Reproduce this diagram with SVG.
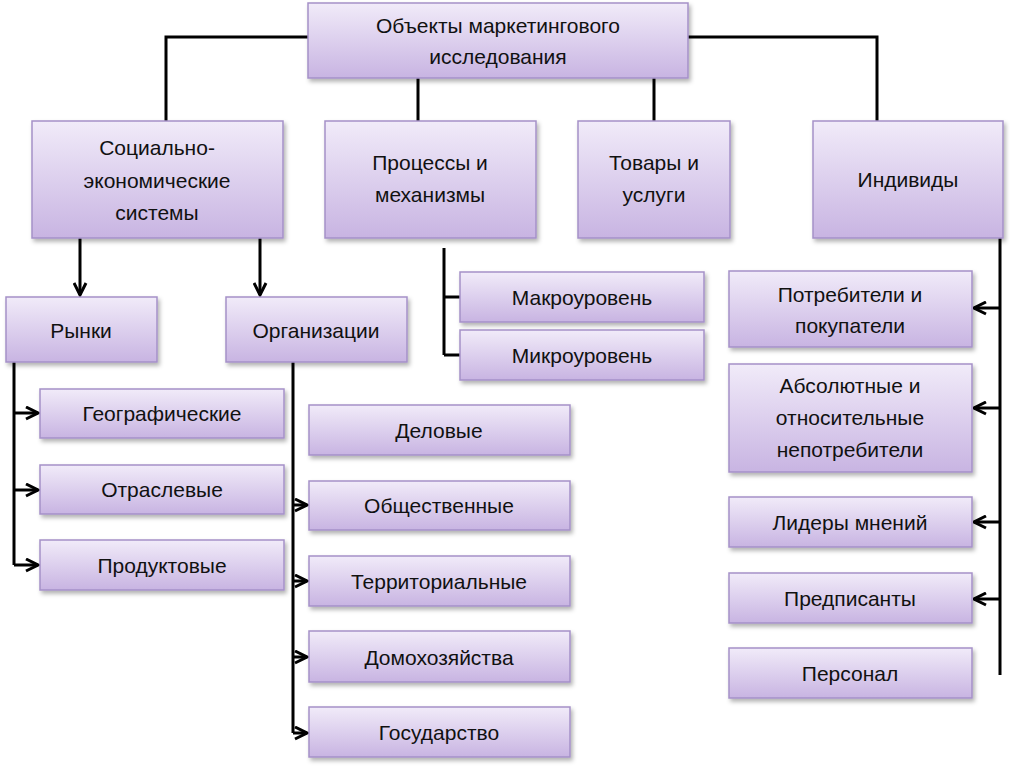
<svg xmlns="http://www.w3.org/2000/svg" width="1010" height="766" viewBox="0 0 1010 766">
<defs>
<linearGradient id="g" x1="0" y1="0" x2="0" y2="1"><stop offset="0" stop-color="#f1ebf9"/><stop offset="1" stop-color="#c8b4e2"/></linearGradient>
<filter id="sh" x="-5%" y="-10%" width="115%" height="130%"><feDropShadow dx="2" dy="3" stdDeviation="2" flood-color="#000" flood-opacity="0.3"/></filter>
<marker id="a" viewBox="0 0 10 10" refX="9" refY="5" markerWidth="5" markerHeight="5" orient="auto"><path d="M1,1 L9,5 L1,9" fill="none" stroke="#000" stroke-width="2"/></marker>
<style>
rect{fill:url(#g);stroke:#a591c8;stroke-width:1.5;filter:url(#sh)}
text{font-family:"Liberation Sans",Arial,sans-serif;font-size:21px;fill:#111;text-anchor:middle}
.c{stroke:#000;stroke-width:3;fill:none}
.ar{marker-end:url(#a)}
</style>
</defs>
<g id="connectors">
<path class="c" d="M308,37 H166 V121 M688,37 H877 V121 M418,78 V121 M654,78 V121"/>
<path class="c ar" d="M80,238 V295"/><path class="c ar" d="M260,238 V295"/>
<path class="c" d="M444,248 V355 M444,297 H460 M444,355 H460"/>
<path class="c" d="M14,362 V565"/>
<path class="c ar" d="M14,413 H38"/><path class="c ar" d="M14,490 H38"/><path class="c ar" d="M14,565 H38"/>
<path class="c" d="M293,362 V733"/>
<path class="c ar" d="M293,505 H307"/><path class="c ar" d="M293,581 H307"/><path class="c ar" d="M293,657 H307"/><path class="c ar" d="M293,733 H307"/>
<path class="c" d="M1000,238 V675"/>
<path class="c ar" d="M1000,308 H974"/><path class="c ar" d="M1000,408 H974"/><path class="c ar" d="M1000,522 H974"/><path class="c ar" d="M1000,599 H974"/>
</g>
<g id="root"><rect x="308" y="3" width="380" height="75"/><text x="498" y="33">Объекты маркетингового</text><text x="498" y="64">исследования</text></g>
<g id="soc"><rect x="32" y="121" width="251" height="117"/><text x="157" y="155">Социально-</text><text x="157" y="188">экономические</text><text x="157" y="220">системы</text></g>
<g id="proc"><rect x="325" y="121" width="211" height="117"/><text x="430" y="170">Процессы и</text><text x="430" y="202">механизмы</text></g>
<g id="tov"><rect x="578" y="121" width="152" height="117"/><text x="654" y="170">Товары и</text><text x="654" y="202">услуги</text></g>
<g id="ind"><rect x="813" y="121" width="190" height="117"/><text x="908" y="187">Индивиды</text></g>
<g id="rynki"><rect x="6" y="297" width="151" height="65"/><text x="81" y="338">Рынки</text></g>
<g id="org"><rect x="226" y="297" width="181" height="65"/><text x="316" y="338">Организации</text></g>
<g id="macro"><rect x="460" y="272" width="244" height="50"/><text x="582" y="305">Макроуровень</text></g>
<g id="micro"><rect x="460" y="330" width="244" height="50"/><text x="582" y="363">Микроуровень</text></g>
<g id="geo"><rect x="40" y="389" width="244" height="49"/><text x="162" y="421">Географические</text></g>
<g id="otr"><rect x="40" y="465" width="244" height="49"/><text x="162" y="497">Отраслевые</text></g>
<g id="prod"><rect x="40" y="540" width="244" height="50"/><text x="162" y="573">Продуктовые</text></g>
<g id="del"><rect x="309" y="405" width="261" height="50"/><text x="439" y="438">Деловые</text></g>
<g id="obsh"><rect x="309" y="481" width="261" height="49"/><text x="439" y="513">Общественные</text></g>
<g id="terr"><rect x="309" y="556" width="261" height="50"/><text x="439" y="589">Территориальные</text></g>
<g id="dom"><rect x="309" y="631" width="261" height="51"/><text x="439" y="665">Домохозяйства</text></g>
<g id="gos"><rect x="309" y="707" width="261" height="50"/><text x="439" y="740">Государство</text></g>
<g id="potr"><rect x="729" y="271" width="243" height="76"/><text x="850" y="302">Потребители и</text><text x="850" y="333">покупатели</text></g>
<g id="abs"><rect x="729" y="364" width="243" height="108"/><text x="850" y="393">Абсолютные и</text><text x="850" y="425">относительные</text><text x="850" y="457">непотребители</text></g>
<g id="lid"><rect x="729" y="497" width="243" height="50"/><text x="850" y="530">Лидеры мнений</text></g>
<g id="pred"><rect x="729" y="573" width="243" height="50"/><text x="850" y="606">Предписанты</text></g>
<g id="pers"><rect x="729" y="648" width="243" height="50"/><text x="850" y="681">Персонал</text></g>
</svg>
